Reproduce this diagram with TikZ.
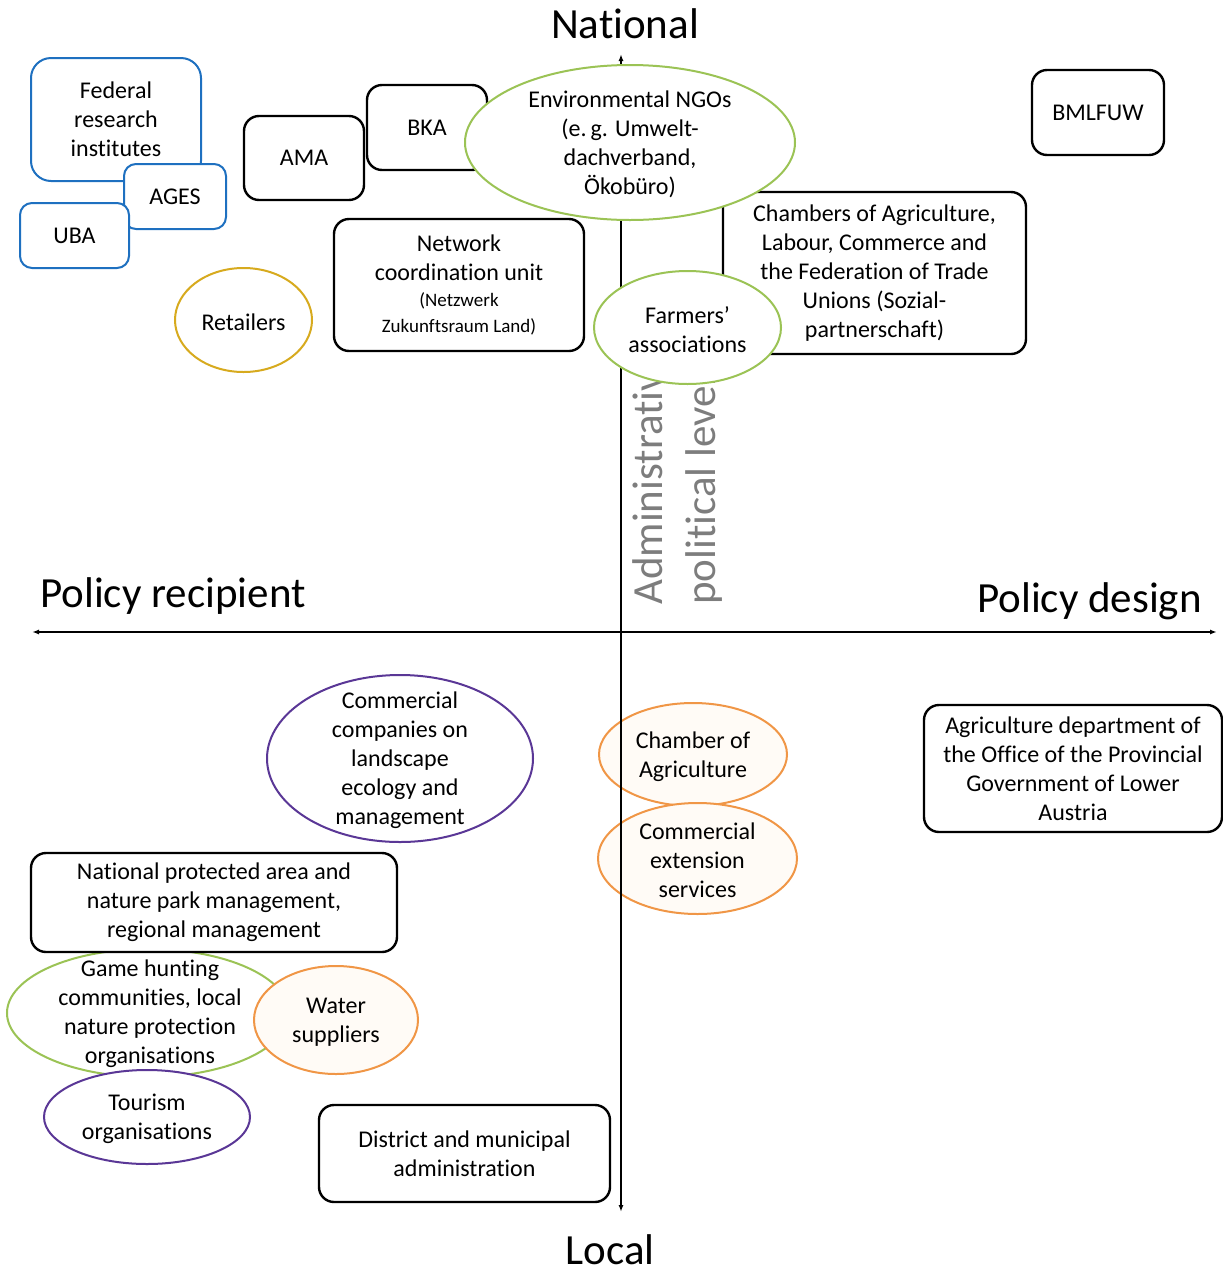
\documentclass[tikz,border=0pt]{standalone}
\usepackage{fontspec}
\setmainfont{Carlito}[Ligatures={NoCommon,NoContextual}]
\usetikzlibrary{shapes.geometric,arrows.meta}
\definecolor{ablue}{RGB}{30,112,192}
\definecolor{agreen}{RGB}{155,195,85}
\definecolor{aorange}{RGB}{240,150,70}
\definecolor{apurple}{RGB}{90,55,150}
\definecolor{agold}{RGB}{215,170,30}
\definecolor{agray}{RGB}{125,125,125}
\definecolor{apeach}{RGB}{255,251,246}
\newcommand\mynf{\fontsize{24}{29}\selectfont}
\newcommand\mysm{\fontsize{19}{26}\selectfont}
\newcommand\mybig{\fontsize{43}{50}\selectfont}
\begin{document}
\begin{tikzpicture}[x=1pt,y=-1pt,
  rbox/.style={draw=black, line width=2.4pt, rounded corners=15pt, fill=white, inner sep=0pt, align=center, font=\mynf},
  bbox/.style={rbox, draw=ablue, line width=2pt},
  ell/.style={ellipse, draw, line width=2pt, fill=white, inner sep=0pt},
  etxt/.style={inner sep=0pt, align=center, font=\mynf, yshift=-2pt},
  biglab/.style={inner sep=0pt, font=\mybig},
  rotlab/.style={inner sep=0pt, font=\mybig, text=agray, rotate=90},
  axis/.style={line width=1.8pt, {Latex[length=7pt,width=5pt]}-{Latex[length=7pt,width=5pt]}}
]
\useasboundingbox (0,0) rectangle (1223,1275);

% orange ellipses behind the axis
\node[ell, draw=aorange, fill=apeach, minimum width=188pt, minimum height=103pt] (coa) at (693,754.5) {};
\node[etxt] (coat) at (coa.center) {Chamber of\\Agriculture};
\node[ell, draw=aorange, fill=apeach, minimum width=199pt, minimum height=111pt] (ces) at (697.5,858.5) {};
\node[etxt] (cest) at (ces.center) {Commercial\\extension\\services};

% rotated axis label
\node[rotlab, anchor=base west] (adm) at (662,605) {Administrative};
\node[rotlab, anchor=base west] (pol) at (715,605) {political level};

% axes
\coordinate (vt) at (621,54);
\coordinate (vb) at (621,1212);
\coordinate (hl) at (32,632);
\coordinate (hr) at (1217,632);
\draw[axis] (vb) -- (vt);
\draw[axis] (hl) -- (hr);

% axis labels
\node[biglab, anchor=base] (nat) at (625,38) {National};
\node[biglab, anchor=base] (loc) at (610,1264) {Local};
\node[biglab, anchor=base west] (prec) at (40,607) {Policy recipient};
\node[biglab, anchor=base east] (pdes) at (1202,612) {Policy design};

% top-left blue boxes
\node[bbox, rounded corners=20pt, minimum width=170pt, minimum height=123pt] (fed) at (116,119.5) {Federal\\research\\institutes};
\node[bbox, rounded corners=12pt, minimum width=102pt, minimum height=65pt] (ages) at (175,196.5) {AGES};
\node[bbox, rounded corners=12pt, minimum width=109pt, minimum height=65pt] (uba) at (74.5,235.5) {UBA};

% national actors
\node[rbox, minimum width=120pt, minimum height=84pt] (ama) at (304,158) {AMA};
\node[rbox, minimum width=120pt, minimum height=85pt] (bka) at (427,127.5) {BKA};
\node[rbox, minimum width=303pt, minimum height=162pt] (cha) at (874.5,273) {Chambers of Agriculture,\\Labour, Commerce and\\the Federation of Trade\\Unions (Sozial-\\partnerschaft)};
\node[ell, draw=agreen, minimum width=330pt, minimum height=155pt] (ngo) at (630,142.5) {};
\node[etxt] (ngot) at (ngo.center) {Environmental NGOs\\(e.\,g. Umwelt-\\dachverband,\\Ökobüro)};
\node[rbox, minimum width=132pt, minimum height=85pt] (bml) at (1098,112.5) {BMLFUW};
\node[rbox, minimum width=250pt, minimum height=132pt] (net) at (459,285) {Network\\coordination unit\\[-3pt]\mysm (Netzwerk\\[-3pt]\mysm Zukunftsraum Land)};
\node[ell, draw=agreen, minimum width=187pt, minimum height=113pt] (farm) at (687.5,327.5) {};
\node[etxt] (farmt) at (farm.center) {Farmers’\\associations};
\node[ell, draw=agold, minimum width=137pt, minimum height=104pt] (ret) at (243.5,320) {};
\node[etxt] (rett) at (ret.center) {Retailers};

% lower half
\node[ell, draw=apurple, minimum width=266pt, minimum height=167pt] (ccomp) at (400,758.5) {};
\node[etxt] (ccompt) at (ccomp.center) {Commercial\\companies on\\landscape\\ecology and\\management};
\node[rbox, minimum width=298pt, minimum height=127pt] (agd) at (1073,768.5) {Agriculture department of\\the Office of the Provincial\\Government of Lower\\Austria};
\node[ell, draw=agreen, minimum width=282pt, minimum height=128pt] (game) at (148,1013) {};
\node[etxt] (gamet) at (150,1012) {Game hunting\\communities, local\\nature protection\\organisations};
\node[rbox, minimum width=366pt, minimum height=99pt] (npa) at (214,902.5) {National protected area and\\nature park management,\\regional management};
\node[ell, draw=aorange, fill=apeach, minimum width=164pt, minimum height=108pt] (wat) at (336,1020) {};
\node[etxt] (watt) at (wat.center) {Water\\suppliers};
\node[ell, draw=apurple, minimum width=206pt, minimum height=94pt] (tour) at (147,1117) {};
\node[etxt] (tourt) at (tour.center) {Tourism\\organisations};
\node[rbox, minimum width=291pt, minimum height=97pt] (dist) at (464.5,1153.5) {District and municipal\\administration};
\end{tikzpicture}
\end{document}
